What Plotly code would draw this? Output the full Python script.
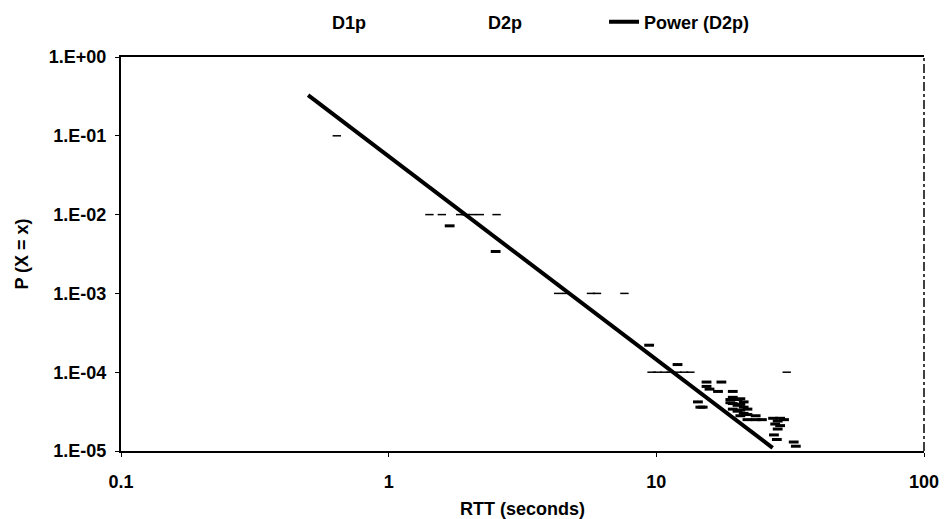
import plotly.graph_objects as go
import numpy as np

# ---- data ----
d1p_x = [0.64, 1.42, 1.58, 1.85, 1.94, 2.05, 2.19, 2.53,
         4.3, 4.6, 5.7, 6.0, 7.6,
         9.6, 10.1, 10.7, 11.3, 12.0, 12.7, 13.4, 30.7]
d1p_y = [0.1, 0.01, 0.01, 0.01, 0.01, 0.01, 0.01, 0.01,
         0.001, 0.001, 0.001, 0.001, 0.001,
         1e-4, 1e-4, 1e-4, 1e-4, 1e-4, 1e-4, 1e-4, 1e-4]

d2p_x = [1.69, 2.51, 9.4, 12.0, 15.4, 15.4, 15.8, 17.5, 17.0, 14.3, 14.6, 14.9,
         18.9, 18.9, 19.3, 19.3, 19.3, 19.3,
         20.1, 20.1, 20.1, 20.6, 20.6, 20.6, 20.6, 21.2, 21.2, 21.2, 21.9, 21.9, 21.9,
         23.5, 23.5, 24.8,
         27.3, 27.8, 28.4, 28.4, 29.0, 29.0, 27.5, 28.2, 30.0,
         32.6, 33.2]
d2p_y = [0.0072, 0.0034, 2.2e-4, 1.25e-4, 7.5e-5, 6.6e-5, 6.1e-5, 7.5e-5, 5.7e-5, 4.2e-5, 3.6e-5, 3.6e-5,
         4.5e-5, 4.1e-5, 5.7e-5, 4.8e-5, 4.0e-5, 3.4e-5,
         4.5e-5, 3.8e-5, 3.2e-5, 4.6e-5, 3.9e-5, 3.3e-5, 2.8e-5, 4.2e-5, 3.6e-5, 3.0e-5, 3.4e-5, 2.9e-5, 2.5e-5,
         2.8e-5, 2.5e-5, 2.5e-5,
         2.6e-5, 2.2e-5, 2.4e-5, 1.9e-5, 2.6e-5, 2.1e-5, 1.6e-5, 1.4e-5, 2.5e-5,
         1.3e-5, 1.15e-5]

# Power trendline (D2p): y = a * x^b, drawn over the fitted x-range
power_a = 0.055
power_b = -2.58
power_x_range = [0.5, 27.2]

x_tick_vals = [0.1, 1, 10, 100]
x_tick_text = ["0.1", "1", "10", "100"]
y_tick_vals = [1, 1e-1, 1e-2, 1e-3, 1e-4, 1e-5]
y_tick_text = ["1.E+00", "1.E-01", "1.E-02", "1.E-03", "1.E-04", "1.E-05"]

trend_x = np.array(power_x_range)
trend_y = power_a * trend_x ** power_b

FONT = "Liberation Sans"
FS = 18

fig = go.Figure()
# data traces (legend keys for these are invisible in the reference)
fig.add_trace(go.Scatter(
    x=d1p_x, y=d1p_y, mode="markers", name="D1p", showlegend=False,
    marker=dict(symbol="line-ew", size=6, color="black",
                line=dict(color="black", width=1.5)),
))
fig.add_trace(go.Scatter(
    x=d2p_x, y=d2p_y, mode="markers", name="D2p", showlegend=False,
    marker=dict(symbol="line-ew", size=7, color="black",
                line=dict(color="black", width=3)),
))
# legend entries (text only for D1p / D2p)
for nm in ["D1p", "D2p"]:
    fig.add_trace(go.Scatter(
        x=[None], y=[None], mode="markers", name=nm,
        marker=dict(size=1, color="rgba(0,0,0,0)"),
    ))
fig.add_trace(go.Scatter(
    x=trend_x, y=trend_y, mode="lines", name="Power (D2p)",
    line=dict(color="black", width=4),
))

fig.update_layout(
    width=947, height=519,
    margin=dict(l=121, r=23, t=57, b=68, autoexpand=False),
    paper_bgcolor="white", plot_bgcolor="white",
    font=dict(family=FONT, size=FS, color="black", weight="bold"),
    showlegend=True,
    legend=dict(orientation="h", x=0.213, xanchor="left", y=1.089, yanchor="middle",
                entrywidth=111, entrywidthmode="pixels",
                font=dict(family=FONT, size=FS, color="black", weight="bold"),
                bgcolor="rgba(0,0,0,0)"),
    xaxis=dict(
        type="log", range=[-1, 2], automargin=False,
        tickvals=x_tick_vals, ticktext=x_tick_text,
        showgrid=False, zeroline=False,
        showline=True, linecolor="black", linewidth=2, mirror=True,
        ticks="outside", ticklen=4, tickcolor="black", tickwidth=1,
        ticklabelstandoff=9,
        title=dict(text="RTT (seconds)", standoff=12,
                   font=dict(family=FONT, size=FS, weight="bold")),
    ),
    yaxis=dict(
        type="log", range=[-5, 0], automargin=False,
        tickvals=y_tick_vals, ticktext=y_tick_text,
        showgrid=False, zeroline=False,
        showline=True, linecolor="black", linewidth=2, mirror=False,
        ticks="outside", ticklen=4, tickcolor="black", tickwidth=1,
        ticklabelstandoff=5,
        title=dict(text="P (X = x)", standoff=16,
                   font=dict(family=FONT, size=FS, weight="bold")),
    ),
    shapes=[dict(type="line", xref="paper", yref="paper", x0=1, x1=1, y0=0, y1=1,
                 line=dict(color="black", width=1.5, dash="dashdot"))],
)

fig.write_html("out.html")
